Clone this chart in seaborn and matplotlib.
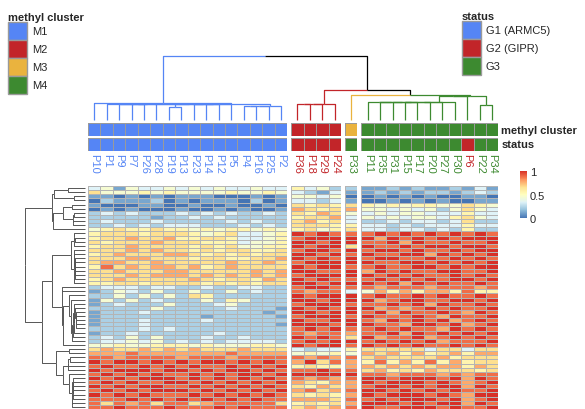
import numpy as np
import pandas as pd
import matplotlib
matplotlib.use("Agg")
import matplotlib.pyplot as plt
from matplotlib.colors import LinearSegmentedColormap, ListedColormap
from matplotlib.patches import Patch
import seaborn as sns

sns.set_style("white")
plt.rcParams['font.family'] = ['Liberation Sans', 'DejaVu Sans']

# ---- data (cell values written as digits 0-9, value = digit / 9) ----
names_m1 = ["P10", "P1", "P9", "P7", "P26", "P28", "P19", "P13", "P23", "P14", "P12", "P5", "P4", "P16", "P25", "P2"]
names_m2 = ["P36", "P18", "P29", "P24"]
names_m3 = ["P33"]
names_m4 = ["P11", "P35", "P31", "P15", "P17", "P20", "P27", "P30", "P6", "P22", "P34"]

status_m1 = ["G1 (ARMC5)"] * 16
status_m2 = ["G2 (GIPR)"] * 4
status_m3 = ["G3"]
status_m4 = ["G3", "G3", "G3", "G3", "G3", "G3", "G3", "G3", "G2 (GIPR)", "G3", "G3"]

heat_m1 = [
    "3414334343433433", "6444545444454454", "1101010111000101", "0211120101110201",
    "1000110010010010", "0101000100101001", "2323222323232232", "2222212232322222",
    "2322232222232322", "2232323332223232", "4565565545455454", "5666566654563345",
    "5667667556653345", "6566676665553445", "5667666656564455", "6667676656566556",
    "5676667765656566", "6667766656655667", "6776676666676676", "5867677675676666",
    "6676667766666767", "6667677767676767", "5676666676566576", "5566566665656566",
    "2333233223223322", "1243242242242322", "2242424265222222", "1424232224254222",
    "1232224222342222", "2222242222232221", "1222322222222212", "1222222221222221",
    "1222322223222222", "1222322222222221", "2222323222222222", "1223222222322222",
    "2324242223223222", "2334342323233332", "4454455545444554", "6766767676667666",
    "7778777777787777", "8878888788878888", "9899898989989898", "8988989898898989",
    "9899989989899898", "8989898898989989", "9898999898989898", "8989889989898989",
    "9898998898989898", "8989899989898989", "9898988898989898", "8889898989898988",
    "8687868867888886", "8898889888989888",
]
heat_m2 = [
    "5342", "3213", "4434", "3323", "6565", "7656", "6576", "5667", "6756", "6665",
    "5645", "9898", "8999", "9989", "9899", "8998", "9989", "9898", "8999", "9899",
    "9988", "8999", "9898", "9989", "8998", "8788", "9899", "9989", "8999", "9898",
    "9989", "8999", "9889", "9998", "8989", "8788", "9898", "8989", "9899", "3233",
    "4545", "8787", "7968", "5655", "8898", "9999", "8787", "7657", "6576", "7867",
    "6565", "7776", "5656", "6767",
]
heat_m3 = [
    "2", "1", "0", "1", "6", "7", "4", "3", "3", "5", "6", "8", "9", "9", "6", "9",
    "8", "9", "9", "8", "9", "9", "8", "9", "8", "3", "9", "9", "8", "9", "9", "8",
    "9", "9", "8", "7", "6", "9", "8", "5", "4", "8", "7", "7", "8", "9", "8", "7",
    "7", "8", "7", "8", "7", "8",
]
heat_m4 = [
    "11212112131", "12121221232", "01010100110", "00101010011", "54545544654",
    "44343424643", "34344333533", "43434435643", "22323323622", "33232333533",
    "33233232522", "89898989898", "97989898999", "88979889889", "98898998998",
    "89989889899", "98899798989", "89988989898", "98899898989", "89889989899",
    "79898899889", "98989889898", "89898989989", "98979898898", "87888788878",
    "47575775855", "89889898898", "97899889989", "88989798898", "97878989889",
    "89798898798", "98889879889", "87989897898", "98879989789", "89898879898",
    "88979898989", "97889789898", "89898978889", "98989889898", "66666366366",
    "76757567577", "67666675666", "58575857566", "76767677576", "67565766656",
    "88788878788", "99899989798", "98999898789", "89989899798", "99898989889",
    "98999898799", "89899989789", "99989899798", "98899989889",
]

cluster_colors = {"M1": "#5585F5", "M2": "#C22529", "M3": "#EAB33E", "M4": "#3D8A30"}
status_colors = {"G1 (ARMC5)": "#5585F5", "G2 (GIPR)": "#C22529", "G3": "#3D8A30"}
heat_colors = ["#4575B4", "#91BFDB", "#E0F3F8", "#FFFFBF", "#FEE090", "#FC8D59", "#D73027"]

blocks = [
    ("M1", names_m1, status_m1, heat_m1),
    ("M2", names_m2, status_m2, heat_m2),
    ("M3", names_m3, status_m3, heat_m3),
    ("M4", names_m4, status_m4, heat_m4),
]

W, H = 585, 410
fig = plt.figure(figsize=(W / 100, H / 100), dpi=100)


def px_axes(x0, y0, x1, y1):
    return fig.add_axes([x0 / W, 1 - y1 / H, (x1 - x0) / W, (y1 - y0) / H])


ax_bg = fig.add_axes([0, 0, 1, 1])
ax_bg.set_xlim(0, W)
ax_bg.set_ylim(H, 0)
ax_bg.axis('off')

cmap = LinearSegmentedColormap.from_list("pheat", heat_colors, N=100)
ann_keys = list(cluster_colors) + list(status_colors)
ann_cmap = ListedColormap(list(cluster_colors.values()) + list(status_colors.values()))

# ---- heatmap blocks + annotation bars ----
top, bottom = 187, 410
cw, gap = 12.45, 4
x0 = 88
leaf_x, methyl_all, mats = [], [], []
for cl, names, status, rows in blocks:
    vals = np.array([[int(ch) for ch in r] for r in rows]) / 9.0
    mats.append(vals)
    n = len(names)
    x1 = x0 + n * cw
    ax_h = px_axes(x0, top, x1, bottom)
    sns.heatmap(pd.DataFrame(vals, columns=names), ax=ax_h, cmap=cmap, vmin=0, vmax=1,
                cbar=False, xticklabels=False, yticklabels=False,
                linewidths=0.4, linecolor="#b4b4b4")

    ax_a1 = px_axes(x0, 124, x1, 137)
    sns.heatmap([[ann_keys.index(cl)] * n], ax=ax_a1, cmap=ann_cmap, vmin=-0.5, vmax=6.5,
                cbar=False, xticklabels=False, yticklabels=False,
                linewidths=0.7, linecolor="#9a9a9a")
    ax_a2 = px_axes(x0, 139, x1, 152)
    sns.heatmap([[ann_keys.index(s) for s in status]], ax=ax_a2, cmap=ann_cmap, vmin=-0.5, vmax=6.5,
                cbar=False, xticklabels=names, yticklabels=False,
                linewidths=0.7, linecolor="#9a9a9a")
    ax_a2.tick_params(axis='x', length=0, pad=1.5, labelsize=8)
    for lab, s in zip(ax_a2.get_xticklabels(), status):
        lab.set_rotation(270)
        lab.set_ha('center')
        lab.set_va('top')
        lab.set_color(status_colors[s])

    leaf_x += [x0 + (i + 0.5) * cw for i in range(n)]
    methyl_all += [cl] * n
    x0 = x1 + gap

for ax_a, txt in [(ax_a1, "methyl cluster"), (ax_a2, "status")]:
    ax_a.yaxis.tick_right()
    ax_a.set_yticks([0.5])
    ax_a.set_yticklabels([txt], rotation=0, fontsize=8, fontweight='bold', va='center')
    ax_a.tick_params(axis='y', length=0, pad=2)

heat = np.hstack(mats)

# ---- colour bar ----
cax = px_axes(520, 172, 527, 219)
cb = fig.colorbar(ax_h.collections[0], cax=cax, ticks=[0, 0.5, 1])
cb.outline.set_visible(False)
cb.ax.set_yticklabels(["0", "0.5", "1"])
cb.ax.tick_params(length=0, labelsize=8, pad=2)


# ---- dendrograms (order-preserving average linkage) ----
def pdist(X):
    diff = X[:, None, :] - X[None, :, :]
    return np.sqrt((diff ** 2).sum(-1))


def merge_adjacent(nodes, D):
    nodes = list(nodes)
    while len(nodes) > 1:
        d = [D[np.ix_(a['m'], b['m'])].mean() for a, b in zip(nodes[:-1], nodes[1:])]
        j = int(np.argmin(d))
        a, b = nodes[j], nodes[j + 1]
        nodes[j:j + 2] = [dict(m=a['m'] + b['m'], h=max(d[j], a['h'], b['h']),
                               pos=(a['pos'] + b['pos']) / 2, kids=(a, b))]
    return nodes[0]


def draw_tree(node, to_xy, color_of, lw):
    for kid in node.get('kids', ()):
        pts = [to_xy(kid['pos'], kid['h']), to_xy(kid['pos'], node['h']), to_xy(node['pos'], node['h'])]
        xs, ys = zip(*pts)
        ax_bg.plot(xs, ys, color=color_of(kid), lw=lw, solid_capstyle='butt')
        draw_tree(kid, to_xy, color_of, lw)


# columns: each methyl cluster first, then the clusters together
Dc = pdist(heat.T)
subtrees, i0 = [], 0
for cl, names, _, _ in blocks:
    leaves = [dict(m=[i], h=0.0, pos=leaf_x[i]) for i in range(i0, i0 + len(names))]
    subtrees.append(merge_adjacent(leaves, Dc))
    i0 += len(names)
col_root = merge_adjacent(subtrees, Dc)
Hc = col_root['h']


def col_color(node):
    cl = {methyl_all[i] for i in node['m']}
    return cluster_colors[cl.pop()] if len(cl) == 1 else "black"


draw_tree(col_root, lambda p, h: (p, 121 - 64 * h / Hc), col_color, 0.9)

# rows
rh = (bottom - top) / heat.shape[0]
Dr = pdist(heat)
row_root = merge_adjacent([dict(m=[i], h=0.0, pos=top + (i + 0.5) * rh) for i in range(heat.shape[0])], Dr)
Hr = row_root['h']
draw_tree(row_root, lambda p, h: (85 - 60 * h / Hr, p), lambda n: "#555555", 0.7)

# ---- legends ----
leg_kw = dict(loc='upper left', frameon=False, fontsize=8, handlelength=1.7, handleheight=2.115,
              labelspacing=0, handletextpad=0.45, borderpad=0, borderaxespad=0,
              title_fontproperties={'weight': 'bold', 'size': 8}, alignment='left')
fig.legend([Patch(facecolor=c, edgecolor="#9a9a9a") for c in cluster_colors.values()],
           list(cluster_colors), title="methyl cluster",
           bbox_to_anchor=(8 / W, 1 - 13 / H), **leg_kw)
fig.legend([Patch(facecolor=c, edgecolor="#9a9a9a") for c in status_colors.values()],
           list(status_colors), title="status",
           bbox_to_anchor=(462 / W, 1 - 12 / H), **leg_kw)

fig.savefig("out.png", dpi=100)
